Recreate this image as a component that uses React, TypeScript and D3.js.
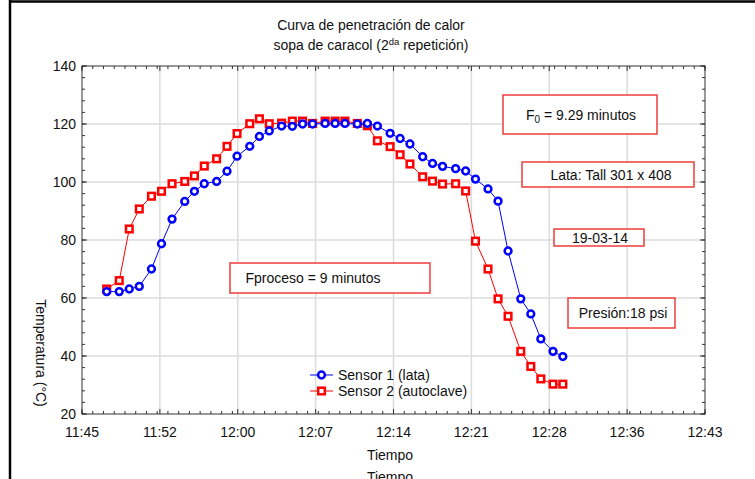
import * as d3 from "d3";
import React from "react";

// lecturas cada ~1 min, hora del registro
const tiempos = [
  "11:47:18", "11:48:28", "11:49:24", "11:50:20", "11:51:28", "11:52:24", "11:53:23", "11:54:34",
  "11:55:28", "11:56:23", "11:57:32", "11:58:30", "11:59:26", "12:00:37", "12:01:31", "12:02:26",
  "12:03:35", "12:04:35", "12:05:32", "12:06:28", "12:07:38", "12:08:34", "12:09:29", "12:10:38",
  "12:11:34", "12:12:30", "12:13:41", "12:14:37", "12:15:32", "12:16:43", "12:17:38", "12:18:34",
  "12:19:47", "12:20:43", "12:21:38", "12:22:48", "12:23:44", "12:24:40", "12:25:51", "12:26:47",
  "12:27:43", "12:28:51", "12:29:46"
];

const sensor1 = [
  62.2, 62.2, 63.1, 64.0, 70.0, 78.7, 87.2, 93.3, 96.8, 99.4, 100.2, 103.7, 108.9, 112.3, 115.7,
  117.6, 119.3, 119.2, 120.0, 120.0, 120.2, 120.2, 120.2, 120.0, 120.2, 119.3, 116.8, 115.0, 113.1,
  108.7, 106.4, 105.4, 104.6, 103.8, 101.0, 97.6, 93.4, 76.2, 59.7, 54.5, 45.9, 41.6, 39.8
];

const sensor2 = [
  63.1, 66.0, 83.8, 90.7, 95.1, 96.8, 99.4, 100.2, 102.1, 105.5, 108.0, 112.3, 116.7, 120.1, 121.8,
  120.1, 120.3, 121.0, 121.0, 120.2, 121.0, 121.0, 121.0, 120.2, 119.4, 114.2, 112.2, 109.4, 106.2,
  101.8, 100.3, 99.3, 99.4, 96.9, 79.6, 70.0, 59.7, 53.7, 41.6, 36.4, 32.1, 30.3, 30.3
];

const xTickLabels = ["11:45", "11:52", "12:00", "12:07", "12:14", "12:21", "12:28", "12:36", "12:43"];
const yTicks = [20, 40, 60, 80, 100, 120, 140];

const W = 755;
const H = 479;
const left = 82, right = 705, top = 66, bottom = 414;
const font = "'Liberation Sans', Arial, sans-serif";
const fs = 14;

const parse = d3.timeParse("%H:%M:%S");
const t0 = parse("11:45:00") as Date;
const t1 = parse("12:43:00") as Date;

const x = d3.scaleTime().domain([t0, t1]).range([left, right]);
const y = d3.scaleLinear().domain([20, 140]).range([bottom, top]);

const majorX = xTickLabels.map((_, i) => new Date(+t0 + (i * (+t1 - +t0)) / (xTickLabels.length - 1)));
const minorX = d3.range(0, 59).map(m => new Date(+t0 + m * 60000));
const minorY = d3.range(20, 141, 4);

const pts1 = tiempos.map((t, i) => ({ t: parse(t) as Date, v: sensor1[i] }));
const pts2 = tiempos.map((t, i) => ({ t: parse(t) as Date, v: sensor2[i] }));

const line = d3.line<{ t: Date; v: number }>().x(d => x(d.t)).y(d => y(d.v));

const Box = ({ x0, y0, w, h, children, tx, ty }: any) => (
  <g>
    <rect x={x0} y={y0} width={w} height={h} fill="#fff" stroke="#f03c3c" strokeWidth={1.5} />
    <text x={tx} y={ty} fontSize={fs} fill="#111" textAnchor="middle">{children}</text>
  </g>
);

export default function App() {
  return (
    <svg width={W} height={H} style={{ position: "fixed", left: 0, top: 0, background: "#fff" }}
      fontFamily={font}>
      <rect width={W} height={H} fill="#fff" />
      {/* marco negro recortado */}
      <line x1={10} y1={0} x2={10} y2={H} stroke="#000" strokeWidth={2.5} />
      <line x1={9} y1={1.5} x2={W} y2={1.5} stroke="#000" strokeWidth={2.5} />

      <text x={371} y={30} fontSize={fs} textAnchor="middle" fill="#111">Curva de penetración de calor</text>
      <text x={371} y={50} fontSize={fs} textAnchor="middle" fill="#111">
        sopa de caracol (2<tspan fontSize={9.5} dy={-5.5}>da</tspan><tspan dy={5.5}> repetición)</tspan>
      </text>

      {/* rejilla */}
      {majorX.slice(1, -1).map((d, i) => (
        <line key={"gx" + i} x1={x(d)} x2={x(d)} y1={top} y2={bottom} stroke="#dcdcdc" strokeWidth={1.5} />
      ))}
      {yTicks.slice(1, -1).map(v => (
        <line key={"gy" + v} x1={left} x2={right} y1={y(v)} y2={y(v)} stroke="#dcdcdc" strokeWidth={1.5} />
      ))}

      {/* ticks interiores */}
      {minorX.map((d, i) => (
        <g key={"mx" + i}>
          <line x1={x(d)} x2={x(d)} y1={bottom} y2={bottom - 3} stroke="#333" />
          <line x1={x(d)} x2={x(d)} y1={top} y2={top + 3} stroke="#333" />
        </g>
      ))}
      {minorY.map(v => (
        <g key={"my" + v}>
          <line x1={left} x2={left + 3} y1={y(v)} y2={y(v)} stroke="#333" />
          <line x1={right} x2={right - 3} y1={y(v)} y2={y(v)} stroke="#333" />
        </g>
      ))}
      {majorX.map((d, i) => (
        <g key={"tx" + i}>
          <line x1={x(d)} x2={x(d)} y1={bottom} y2={bottom - 5} stroke="#333" />
          <line x1={x(d)} x2={x(d)} y1={top} y2={top + 5} stroke="#333" />
          <text x={x(d)} y={437} fontSize={fs} textAnchor="middle" fill="#111">{xTickLabels[i]}</text>
        </g>
      ))}
      {yTicks.map(v => (
        <g key={"ty" + v}>
          <line x1={left} x2={left + 5} y1={y(v)} y2={y(v)} stroke="#333" />
          <line x1={right} x2={right - 5} y1={y(v)} y2={y(v)} stroke="#333" />
          <text x={76} y={y(v) + 5} fontSize={fs} textAnchor="end" fill="#111">{v}</text>
        </g>
      ))}
      <rect x={left} y={top} width={right - left} height={bottom - top} fill="none" stroke="#333" strokeWidth={1} />

      {/* ejes */}
      <text x={390} y={460} fontSize={fs} textAnchor="middle" fill="#111">Tiempo</text>
      <text x={390} y={482} fontSize={fs} textAnchor="middle" fill="#111">Tiempo</text>
      <text transform="translate(36,353) rotate(90)" fontSize={fs} textAnchor="middle" fill="#111">
        Temperatura (°C)
      </text>

      {/* anotaciones */}
      <Box x0={230} y0={263} w={200} h={30} tx={313} ty={283}>Fproceso = 9 minutos</Box>
      <Box x0={503} y0={95} w={154} h={39} tx={581} ty={120}>
        F<tspan fontSize={10} dy={3}>0</tspan><tspan dy={-3}> =  9.29 minutos</tspan>
      </Box>
      <Box x0={522} y0={162} w={172} h={25} tx={611} ty={180}>Lata:  Tall 301 x 408</Box>
      <Box x0={554} y0={229} w={90} h={17} tx={600} ty={243}>19-03-14</Box>
      <Box x0={568} y0={298} w={107} h={30} tx={623} ty={318}>Presión:18 psi</Box>

      {/* series */}
      <path d={line(pts2) || ""} fill="none" stroke="#ff0000" strokeWidth={1} />
      <path d={line(pts1) || ""} fill="none" stroke="#0000ff" strokeWidth={1} />
      {pts2.map((d, i) => (
        <rect key={"r" + i} x={x(d.t) - 3.3} y={y(d.v) - 3.3} width={6.6} height={6.6}
          fill="#fff" stroke="#ff0000" strokeWidth={2.5} />
      ))}
      {pts1.map((d, i) => (
        <circle key={"b" + i} cx={x(d.t)} cy={y(d.v)} r={3.4} fill="#fff" stroke="#0000ff" strokeWidth={2.5} />
      ))}

      {/* leyenda */}
      <line x1={310} x2={333} y1={375} y2={375} stroke="#0000ff" />
      <circle cx={321.5} cy={375} r={3.4} fill="#fff" stroke="#0000ff" strokeWidth={2.5} />
      <text x={338} y={380} fontSize={fs} fill="#111">Sensor 1 (lata)</text>
      <line x1={310} x2={333} y1={391} y2={391} stroke="#ff0000" />
      <rect x={318.2} y={387.7} width={6.6} height={6.6} fill="#fff" stroke="#ff0000" strokeWidth={2.5} />
      <text x={338} y={396} fontSize={fs} fill="#111">Sensor 2 (autoclave)</text>
    </svg>
  );
}
